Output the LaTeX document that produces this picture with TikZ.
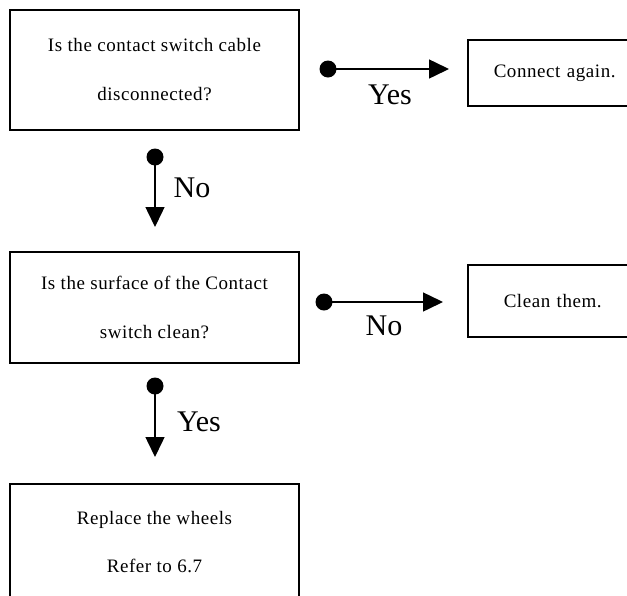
\documentclass[tikz,border=0pt]{standalone}
\usepackage{fontspec}
\setmainfont{Liberation Serif}
\newfontfamily\boxfont[LetterSpace=3]{Liberation Serif}
\usetikzlibrary{arrows.meta}
\begin{document}
\begin{tikzpicture}[x=1pt,y=-1pt,
  box/.style={draw, line width=1.5pt, inner sep=0pt, font=\boxfont\fontsize{19}{49}\selectfont, align=center},
  dotnode/.style={circle, fill, inner sep=0pt, minimum size=17pt},
  flow/.style={line width=1.5pt, -{Triangle[length=20pt,width=19pt]}},
  lbl/.style={font=\fontsize{30}{32}\selectfont, inner sep=0pt}]
\useasboundingbox (0,0) rectangle (627,595);
\clip (0,0) rectangle (627,595);
% boxes
\node[box, minimum width=289pt, minimum height=120pt] (q1) at (154.5,70) {Is the contact switch cable\\disconnected?};
\node[box, anchor=west, minimum height=66pt, text width=200pt, align=left, inner xsep=26pt] (a1) at (467,73) {Connect again.};
\node[box, minimum width=289pt, minimum height=111pt] (q2) at (154.5,307.5) {Is the surface of the Contact\\switch clean?};
\node[box, anchor=west, minimum height=72pt, text width=200pt, align=left, inner xsep=36pt] (a2) at (467,301) {Clean them.};
\node[box, anchor=north, minimum width=289pt, minimum height=150pt] (r) at (154.5,483) {};
\node[font=\boxfont\fontsize{19}{48}\selectfont, align=center, inner sep=0pt] (rt) at (154.5,542) {Replace the wheels\\Refer to 6.7};
% connector 1 (Yes, right)
\node[dotnode] (d1) at (328,69) {};
\coordinate (t1) at (449,69);
\draw[flow] (d1.center) -- (t1);
\node[lbl] (l1) at (390,95) {Yes};
% connector 2 (No, down)
\node[dotnode] (d2) at (155,157) {};
\coordinate (t2) at (155,227);
\draw[flow] (d2.center) -- (t2);
\node[lbl] (l2) at (192,188) {No};
% connector 3 (No, right)
\node[dotnode] (d3) at (324,302) {};
\coordinate (t3) at (443,302);
\draw[flow] (d3.center) -- (t3);
\node[lbl] (l3) at (384,326) {No};
% connector 4 (Yes, down)
\node[dotnode] (d4) at (155,386) {};
\coordinate (t4) at (155,457);
\draw[flow] (d4.center) -- (t4);
\node[lbl] (l4) at (199,422) {Yes};
\end{tikzpicture}
\end{document}
